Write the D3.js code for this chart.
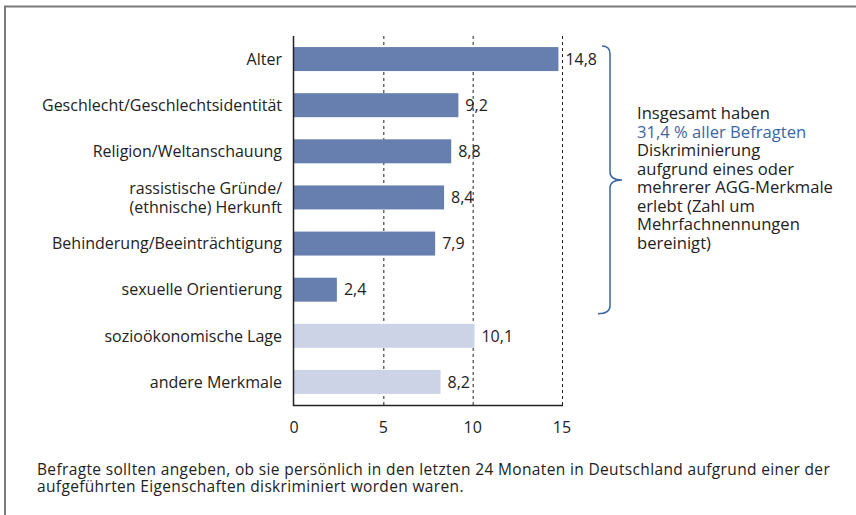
<!DOCTYPE html>
<html>
<head>
<meta charset="utf-8">
<script src="https://cdn.jsdelivr.net/npm/d3@7"></script>
<style>
  body { margin: 0; background: #fff; }
  svg text { font-family: "Open Sans", Lato, sans-serif; fill: #222; }
</style>
</head>
<body>
<div id="chart"></div>
<script>
const categories = [
  ['Alter'],
  ['Geschlecht/Geschlechtsidentität'],
  ['Religion/Weltanschauung'],
  ['rassistische Gründe/', '(ethnische) Herkunft'],
  ['Behinderung/Beeinträchtigung'],
  ['sexuelle Orientierung'],
  ['sozioökonomische Lage'],
  ['andere Merkmale'],
]
const values = [14.8, 9.2, 8.8, 8.4, 7.9, 2.4, 10.1, 8.2]
const isAgg = [true, true, true, true, true, true, false, false]
const xTicks = [0, 5, 10, 15]
const noteLines = [
  {t: 'Insgesamt haben', hi: false},
  {t: '31,4 % aller Befragten', hi: true},
  {t: 'Diskriminierung', hi: false},
  {t: 'aufgrund eines oder', hi: false},
  {t: 'mehrerer AGG-Merkmale', hi: false},
  {t: 'erlebt (Zahl um', hi: false},
  {t: 'Mehrfachnennungen', hi: false},
  {t: 'bereinigt)', hi: false},
]
const footLines = [
  'Befragte sollten angeben, ob sie persönlich in den letzten 24 Monaten in Deutschland aufgrund einer der',
  'aufgeführten Eigenschaften diskriminiert worden waren.',
]

const W = 856, H = 515
const plot = {left: 294, right: 562, top: 36, bottom: 405}
const colors = {agg: '#667fae', other: '#cdd3e6', accent: '#3d66a3'}

const svg = d3.select('#chart').append('svg')
  .attr('width', W).attr('height', H)

// frame (open at right/bottom, as cropped)
svg.append('line').attr('x1', 4).attr('x2', W).attr('y1', 6.5).attr('y2', 6.5)
  .attr('stroke', '#7a7a7a').attr('stroke-width', 2)
svg.append('line').attr('x1', 5).attr('x2', 5).attr('y1', 6).attr('y2', H)
  .attr('stroke', '#7a7a7a').attr('stroke-width', 2)

const x = d3.scaleLinear().domain([0, 15]).range([plot.left, plot.right])
const y = d3.scaleBand().domain(d3.range(values.length))
  .range([plot.top, plot.bottom]).paddingInner(0.48).paddingOuter(0.24)

// dashed gridlines
svg.selectAll('.grid')
  .data(xTicks.filter((d) => d > 0))
  .enter()
    .append('line')
    .attr('x1', (d) => x(d) + 0.5).attr('x2', (d) => x(d) + 0.5)
    .attr('y1', plot.top).attr('y2', plot.bottom)
    .attr('stroke', '#222').attr('stroke-width', 1)
    .attr('stroke-dasharray', '3,3')

// bars
svg.selectAll('.bar')
  .data(values)
  .enter()
    .append('rect')
    .attr('x', x(0))
    .attr('y', (d, i) => y(i))
    .attr('width', (d) => x(d) - x(0))
    .attr('height', y.bandwidth())
    .attr('fill', (d, i) => isAgg[i] ? colors.agg : colors.other)

// value labels
svg.selectAll('.val')
  .data(values)
  .enter()
    .append('text')
    .attr('x', (d) => x(d) + 7)
    .attr('y', (d, i) => y(i) + y.bandwidth() / 2)
    .attr('dy', '0.36em')
    .attr('font-size', 16)
    .text((d) => d.toFixed(1).replace('.', ','))

// axes lines
svg.append('line').attr('x1', x(0) - 0.5).attr('x2', x(0) - 0.5)
  .attr('y1', plot.top).attr('y2', plot.bottom + 1)
  .attr('stroke', '#222').attr('stroke-width', 1.5)
svg.append('line').attr('x1', x(0) - 1).attr('x2', plot.right + 1)
  .attr('y1', plot.bottom + 0.5).attr('y2', plot.bottom + 0.5)
  .attr('stroke', '#222').attr('stroke-width', 1.5)

svg.selectAll('.tick')
  .data(xTicks)
  .enter()
    .append('text')
    .attr('x', (d) => x(d))
    .attr('y', plot.bottom + 28)
    .attr('text-anchor', 'middle')
    .attr('font-size', 16)
    .text((d) => d)

// category labels
const cat = svg.selectAll('.cat')
  .data(categories)
  .enter()
    .append('text')
    .attr('text-anchor', 'end')
    .attr('font-size', 16)
cat.selectAll('tspan')
  .data((d, i) => d.map((t, j) => ({t: t, i: i, j: j, n: d.length})))
  .enter()
    .append('tspan')
    .attr('x', 282)
    .attr('y', (d) => y(d.i) + y.bandwidth() / 2 + (d.j - (d.n - 1) / 2) * 19)
    .attr('dy', '0.36em')
    .text((d) => d.t)

// bracket spanning the AGG bars
const bTop = y(0) - 1, bBot = y(5) + y.bandwidth() + 12
const bMid = (bTop + bBot) / 2
const bx = 610
const bracket = d3.path()
bracket.moveTo(bx - 8, bTop)
bracket.quadraticCurveTo(bx, bTop, bx, bTop + 8)
bracket.lineTo(bx, bMid - 8)
bracket.quadraticCurveTo(bx, bMid, bx + 12, bMid)
bracket.quadraticCurveTo(bx, bMid, bx, bMid + 8)
bracket.lineTo(bx, bBot - 8)
bracket.quadraticCurveTo(bx, bBot, bx - 12, bBot)
svg.append('path').attr('d', bracket.toString())
  .attr('fill', 'none').attr('stroke', colors.accent).attr('stroke-width', 1.5)

// note text
svg.append('g').selectAll('text')
  .data(noteLines)
  .enter()
    .append('text')
    .attr('x', 637)
    .attr('y', (d, i) => 119 + i * 18.5)
    .attr('font-size', 16.6)
    .style('fill', (d) => d.hi ? colors.accent : '#222')
    .text((d) => d.t)

// footnote
svg.append('g').selectAll('text')
  .data(footLines)
  .enter()
    .append('text')
    .attr('x', 37)
    .attr('y', (d, i) => 475 + i * 17)
    .attr('font-size', 15.5)
    .attr('letter-spacing', 0.35)
    .text((d) => d)
</script>
</body>
</html>
